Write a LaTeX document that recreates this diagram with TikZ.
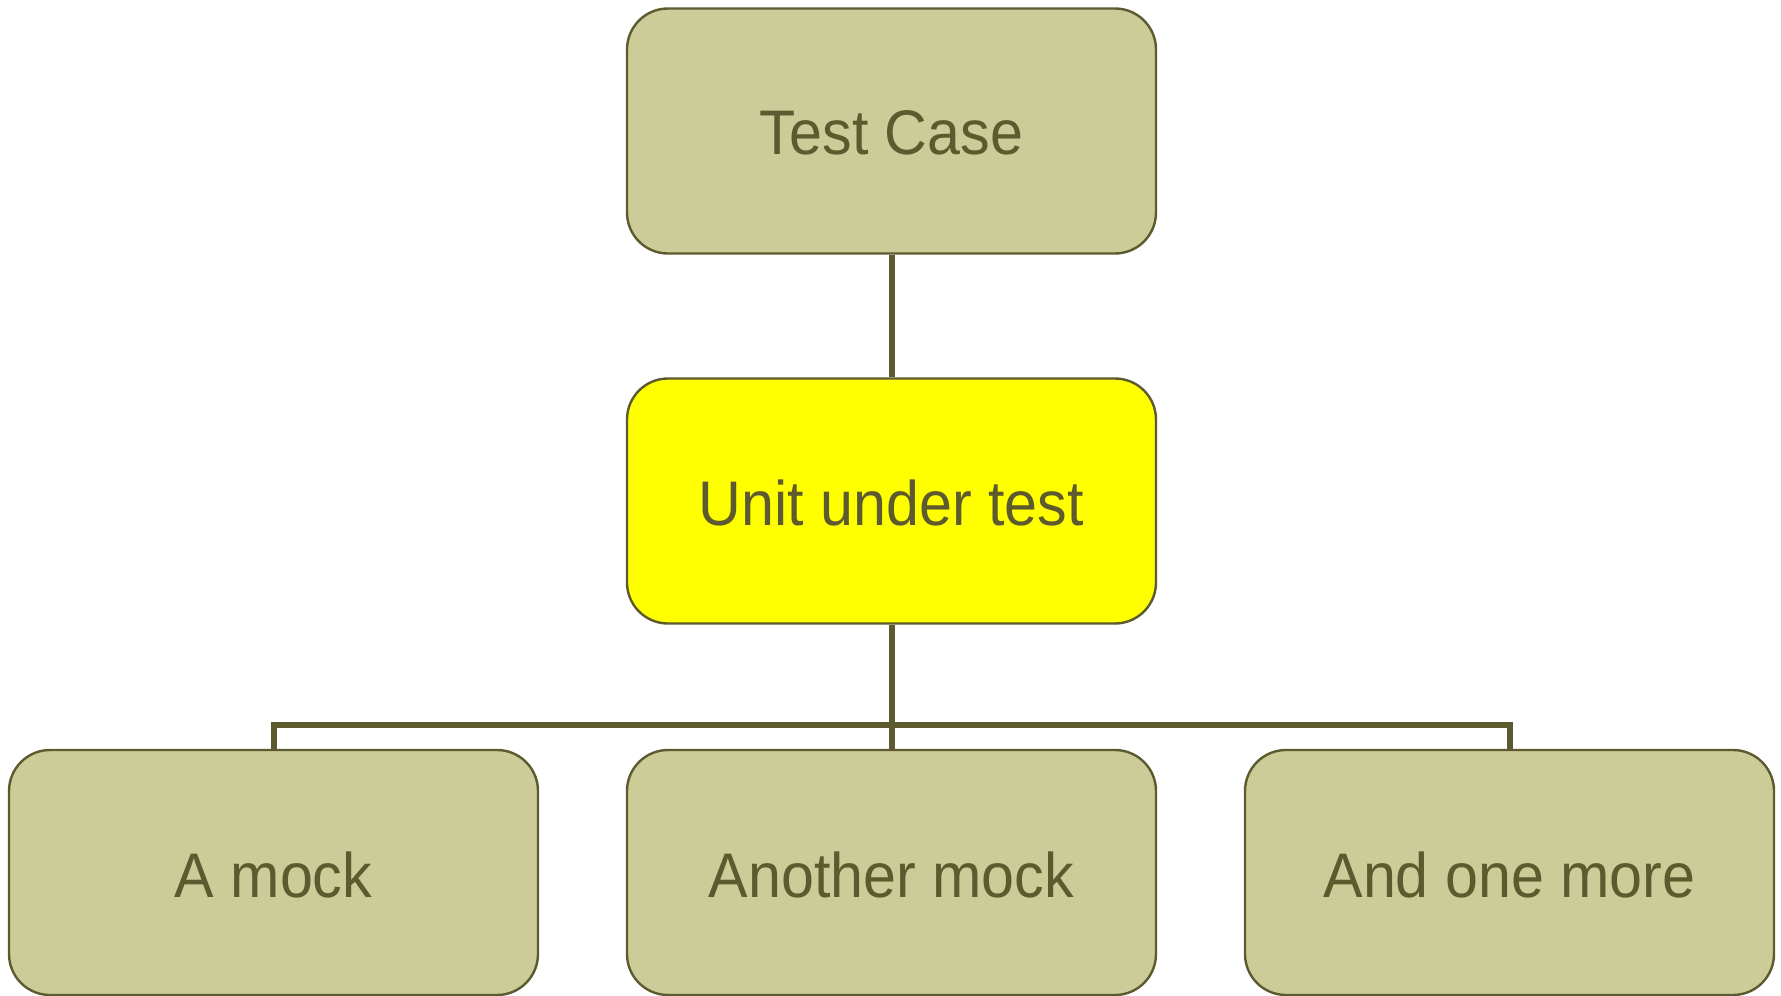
\documentclass[tikz,border=0pt]{standalone}
\usepackage{fontspec}
\setmainfont{Liberation Sans}[FakeStretch=0.94]
\definecolor{olive}{HTML}{5C5A2E}
\definecolor{khaki}{HTML}{CCCC99}
\definecolor{brightyellow}{HTML}{FFFF00}
\newcommand{\lowtext}[1]{\raisebox{-2pt}[\height][\depth]{#1}}
\tikzset{
  box/.style={draw=olive, line width=2.4pt, fill=khaki, rounded corners=41pt,
    minimum width=529pt, minimum height=245pt, inner sep=0pt,
    text=olive, font=\fontsize{63}{75}\selectfont},
  link/.style={draw=olive, line width=6pt}
}
\begin{document}
\begin{tikzpicture}[x=1pt,y=-1pt]
\useasboundingbox (0,0) rectangle (1781,996);
\node[box] (tc) at (891.5,131) {\lowtext{Test Case}};
\node[box, fill=brightyellow] (uut) at (891.5,501) {\lowtext{Unit under test}};
\node[box] (a) at (273.5,872.5) {\lowtext{A mock}};
\node[box] (b) at (891.5,872.5) {\lowtext{Another mock}};
\node[box] (c) at (1509.5,872.5) {\lowtext{And one more}};
\coordinate (bus) at (891.5,725);
\draw[link] (tc.south) -- (uut.north);
\draw[link] (uut.south) -- (b.north);
\draw[link] (a.north) |- (bus) -| (c.north);
\end{tikzpicture}
\end{document}
